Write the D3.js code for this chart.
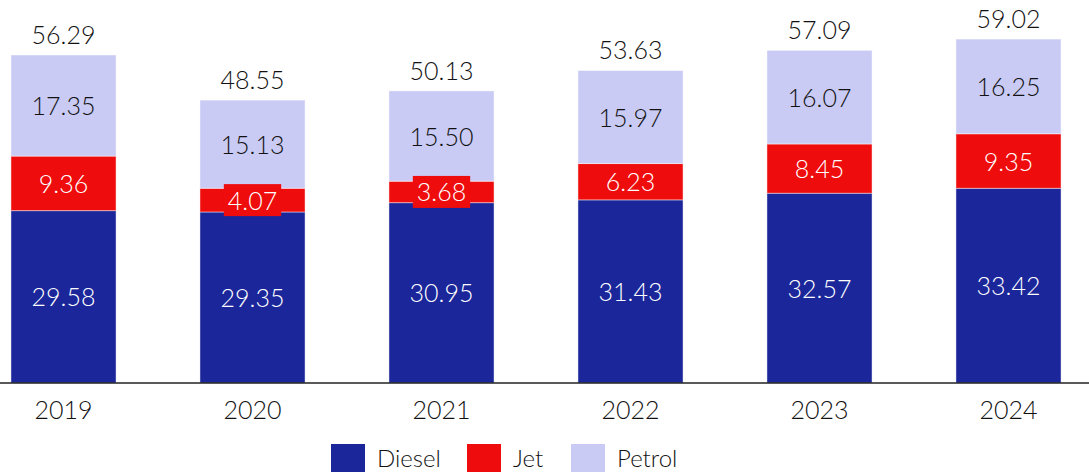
<!DOCTYPE html>
<html><head><meta charset="utf-8">
<script src="https://cdn.jsdelivr.net/npm/d3@7"></script>
<style>body{margin:0;background:#fff}svg{display:block;font-family:Lato,"Open Sans",sans-serif;font-weight:300}</style>
</head><body><svg id="c" width="1089" height="472"></svg>
<script>
const years = ["2019","2020","2021","2022","2023","2024"];
const diesel = [29.58,29.35,30.95,31.43,32.57,33.42];
const jet = [9.36,4.07,3.68,6.23,8.45,9.35];
const petrol = [17.35,15.13,15.50,15.97,16.07,16.25];
const totals = [56.29,48.55,50.13,53.63,57.09,59.02];
const seriesNames = ["Diesel","Jet","Petrol"];
const colors = ["#1a2699","#ee0c0c","#c9cbf4"];
const textColors = ["#fff","#fff","#111"];

const svg = d3.select("#c");
const W=1089, baseY=383;
const x = d3.scaleBand().domain(years).range([0,1072]).paddingInner(0.444).paddingOuter(0.058);
const y = d3.scaleLinear().domain([0,56.29]).range([baseY,55]);

const rows = years.map((yr,i)=>({year:yr,Diesel:diesel[i],Jet:jet[i],Petrol:petrol[i]}));
const stack = d3.stack().keys(seriesNames)(rows);

stack.forEach((s,si)=>{
  const g = svg.append("g");
  g.selectAll("rect").data(s).join("rect")
    .attr("x",d=>x(d.data.year)).attr("width",x.bandwidth())
    .attr("y",d=>y(d[1])).attr("height",d=>y(d[0])-y(d[1]))
    .attr("fill",colors[si]).attr("stroke","rgba(255,255,255,0.45)").attr("stroke-width",1);
});
stack.forEach((s,si)=>{
  s.forEach(d=>{
    const v = d[1]-d[0];
    const cx = x(d.data.year)+x.bandwidth()/2, cy=(y(d[0])+y(d[1]))/2;
    const h = y(d[0])-y(d[1]);
    const t = svg.append("text").attr("x",cx).attr("y",cy).attr("dy","0.38em")
      .attr("text-anchor","middle").attr("font-size",25).attr("fill",textColors[si]).text(v.toFixed(2));
    if (h < 30) {
      const bb = t.node().getBBox();
      svg.insert("rect", () => t.node()).attr("x",bb.x-4).attr("width",bb.width+8)
        .attr("y",cy-16).attr("height",32).attr("fill",colors[si]);
    }
  });
});
svg.selectAll("text.tot").data(years).join("text").attr("class","tot")
  .attr("x",d=>x(d)+x.bandwidth()/2).attr("y",(d,i)=>y(totals[i])-11)
  .attr("text-anchor","middle").attr("font-size",25).attr("fill","#111").text((d,i)=>totals[i].toFixed(2));

const axis = d3.axisBottom(x).tickSize(0).tickPadding(18);
const ag = svg.append("g").attr("transform",`translate(0,${baseY})`).call(axis);
ag.select(".domain").remove();
ag.append("line").attr("x1",0).attr("x2",W).attr("stroke","#222").attr("stroke-width",1.5);
ag.selectAll("text").attr("font-size",25).attr("fill","#111").attr("font-family",'Lato,"Open Sans",sans-serif').attr("font-weight",300);

const legX=[331,467,571];
const lg = svg.append("g");
seriesNames.forEach((n,i)=>{
  lg.append("rect").attr("x",legX[i]).attr("y",444).attr("width",34).attr("height",30).attr("fill",colors[i]);
  lg.append("text").attr("x",legX[i]+46).attr("y",467).attr("font-size",24).attr("fill","#111").text(n);
});
</script></body></html>
